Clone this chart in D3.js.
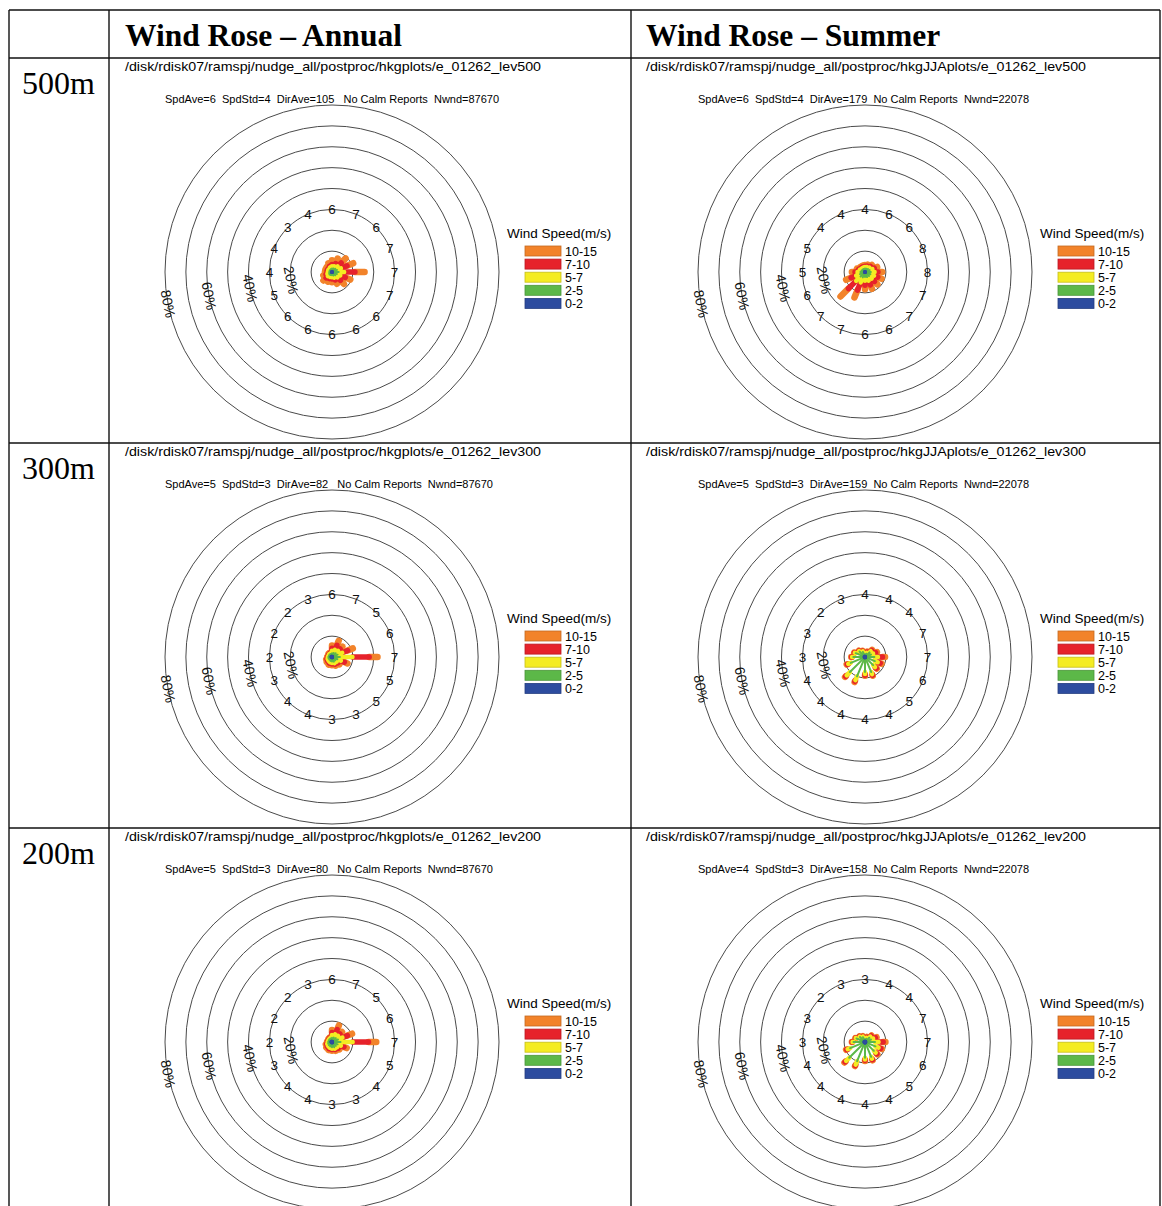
<!DOCTYPE html>
<html>
<head>
<meta charset="utf-8">
<script src="https://cdn.jsdelivr.net/npm/d3@7"></script>
<style>
  body { margin: 0; background: #fff; }
  svg { display: block; }
  .sans { font-family: "Liberation Sans", Arial, Helvetica, sans-serif; }
  .serif { font-family: "Liberation Serif", "Times New Roman", Times, serif; }
</style>
</head>
<body>
<svg id="chart" width="1162" height="1206"></svg>
<script>
// ---- shared definitions ----
const directions = ["N","NNE","NE","ENE","E","ESE","SE","SSE","S","SSW","SW","WSW","W","WNW","NW","NNW"];
const speedClasses = ["0-2","2-5","5-7","7-10","10-15"];
const classColors = ["#2d4c9f","#5cb848","#f4ec22","#e6222b","#f2832a"];
const ringLevels = [10,20,30,40,50,60,70,80];
const ringLabelLevels = [20,40,60,80];
const columnTitles = ["Wind Rose \u2013 Annual","Wind Rose \u2013 Summer"];
const rowTitles = ["500m","300m","200m"];

// ---- Annual, 500 m : frequency (%) per speed class [0-2, 2-5, 5-7, 7-10, 10-15] × 16 directions ----
const annual500Freq = [
  [0.2,0.2,0.2,0.2,0.2,0.2,0.2,0.2,0.2,0.2,0.2,0.2,0.2,0.2,0.2,0.2],
  [1.5,1.6,2.0,2.4,3.0,2.3,2.0,1.6,1.4,1.4,1.5,1.3,1.1,1.1,1.1,1.3],
  [1.0,1.2,1.6,2.0,2.6,1.8,1.5,1.1,0.9,0.9,1.1,0.9,0.7,0.7,0.7,0.9],
  [0.9,1.4,2.4,3.2,5.2,2.6,2.0,1.2,0.8,0.9,1.2,0.7,0.4,0.4,0.4,0.6],
  [2.0,2.6,3.0,3.2,4.6,2.6,2.4,2.0,1.6,1.6,1.8,1.4,1.0,1.0,1.1,1.5]
];
const annual500Speed = [6,7,6,7,7,7,6,6,6,6,6,5,4,4,3,4];

// ---- Summer, 500 m ----
const summer500Freq = [
  [0.2,0.2,0.2,0.2,0.2,0.2,0.2,0.2,0.2,0.2,0.2,0.2,0.2,0.2,0.2,0.2],
  [1.5,1.5,1.8,2.2,2.6,2.6,2.5,2.4,2.2,2.6,2.8,2.4,2.0,1.6,1.4,1.4],
  [0.7,0.8,1.0,1.4,1.8,1.9,1.8,1.9,1.8,2.6,3.0,2.0,1.4,0.9,0.7,0.7],
  [0.4,0.5,0.7,1.0,1.6,1.9,1.9,2.2,2.2,4.0,5.2,2.6,1.2,0.6,0.4,0.4],
  [0.5,0.8,1.0,1.5,2.0,2.0,2.0,2.0,1.9,3.8,5.4,2.6,1.5,0.9,0.6,0.6]
];
const summer500Speed = [4,6,6,8,8,7,7,6,6,7,7,6,5,5,4,4];

// ---- Annual, 300 m ----
const annual300Freq = [
  [0.3,0.3,0.3,0.3,0.3,0.3,0.3,0.4,0.4,0.3,0.3,0.4,0.5,0.5,0.5,0.4],
  [1.5,1.8,2.2,2.6,3.5,2.5,1.9,2.0,1.8,1.7,1.5,1.4,1.3,1.1,1.2,1.2],
  [1.2,1.6,1.6,2.4,6.0,1.8,1.0,0.8,0.7,0.7,0.6,0.5,0.2,0.2,0.2,0.3],
  [1.2,2.4,1.4,2.8,8.0,1.8,0.8,0.5,0.4,0.5,0.4,0.3,0.1,0.1,0.1,0.2],
  [1.3,2.3,1.5,2.7,4.0,1.6,1.0,0.8,0.7,0.8,0.7,0.4,0.2,0.1,0.3,0.2]
];
const annual300Speed = [6,7,5,6,7,5,5,3,3,4,4,3,2,2,2,3];

// ---- Summer, 300 m ----
const summer300Freq = [
  [0.3,0.3,0.3,0.3,0.3,0.3,0.3,0.4,0.4,0.4,0.4,0.4,0.4,0.4,0.5,0.4],
  [1.0,1.4,2.8,2.8,4.2,4.8,5.2,7.4,6.8,9.6,9.8,7.0,5.2,4.4,3.2,2.2],
  [0.3,0.5,0.8,1.1,1.7,1.5,1.3,1.1,1.0,2.0,2.2,1.3,0.6,0.5,0.3,0.3],
  [0.2,0.4,0.6,1.3,2.2,1.3,0.8,0.5,0.5,0.6,0.7,0.5,0.2,0.2,0.1,0.2],
  [0.2,0.2,0.3,0.7,1.2,0.7,0.4,0.3,0.3,0.4,0.4,0.3,0.2,0.1,0.1,0.1]
];
const summer300Speed = [4,4,4,7,7,6,5,4,4,4,4,4,3,3,2,3];

// ---- Annual, 200 m ----
const annual200Freq = [
  [0.3,0.3,0.3,0.3,0.3,0.3,0.4,0.4,0.4,0.4,0.4,0.4,0.5,0.5,0.5,0.4],
  [1.7,2.0,2.3,2.8,3.8,2.6,2.2,2.3,2.1,1.9,1.7,1.6,1.4,1.2,1.3,1.4],
  [1.3,1.7,1.5,2.3,5.8,1.7,0.9,0.8,0.7,0.7,0.6,0.5,0.2,0.2,0.2,0.3],
  [1.2,2.4,1.3,2.6,7.6,1.6,0.7,0.4,0.4,0.5,0.4,0.3,0.1,0.1,0.1,0.2],
  [1.3,2.2,1.4,2.4,3.7,1.4,0.8,0.7,0.6,0.7,0.7,0.4,0.2,0.1,0.2,0.2]
];
const annual200Speed = [6,7,5,6,7,5,4,3,3,4,4,3,2,2,2,3];

// ---- Summer, 200 m ----
const summer200Freq = [
  [0.4,0.4,0.4,0.4,0.4,0.4,0.4,0.5,0.5,0.5,0.5,0.5,0.5,0.5,0.5,0.4],
  [0.9,1.3,2.5,2.7,4.4,5.0,5.6,7.2,7.0,9.4,10.2,7.2,5.0,3.9,2.9,2.1],
  [0.2,0.4,0.7,1.1,1.7,1.6,1.3,1.0,0.9,1.8,2.1,1.3,0.5,0.4,0.2,0.3],
  [0.1,0.3,0.5,1.2,2.2,1.2,0.7,0.5,0.4,0.5,0.7,0.5,0.2,0.1,0.1,0.1],
  [0.2,0.2,0.3,0.6,1.1,0.6,0.4,0.3,0.3,0.3,0.4,0.3,0.1,0.1,0.1,0.1]
];
const summer200Speed = [3,4,4,7,7,6,5,4,4,4,4,4,3,3,2,3];

// ---- panel captions ----
const annualPaths = [
  "/disk/rdisk07/ramspj/nudge_all/postproc/hkgplots/e_01262_lev500",
  "/disk/rdisk07/ramspj/nudge_all/postproc/hkgplots/e_01262_lev300",
  "/disk/rdisk07/ramspj/nudge_all/postproc/hkgplots/e_01262_lev200"
];
const summerPaths = [
  "/disk/rdisk07/ramspj/nudge_all/postproc/hkgJJAplots/e_01262_lev500",
  "/disk/rdisk07/ramspj/nudge_all/postproc/hkgJJAplots/e_01262_lev300",
  "/disk/rdisk07/ramspj/nudge_all/postproc/hkgJJAplots/e_01262_lev200"
];
const annualStats = [
  "SpdAve=6  SpdStd=4  DirAve=105   No Calm Reports  Nwnd=87670",
  "SpdAve=5  SpdStd=3  DirAve=82   No Calm Reports  Nwnd=87670",
  "SpdAve=5  SpdStd=3  DirAve=80   No Calm Reports  Nwnd=87670"
];
const summerStats = [
  "SpdAve=6  SpdStd=4  DirAve=179  No Calm Reports  Nwnd=22078",
  "SpdAve=5  SpdStd=3  DirAve=159  No Calm Reports  Nwnd=22078",
  "SpdAve=4  SpdStd=3  DirAve=158  No Calm Reports  Nwnd=22078"
];

const panels = [
  { col: 0, row: 0, freq: annual500Freq, speed: annual500Speed, path: annualPaths[0], stats: annualStats[0] },
  { col: 1, row: 0, freq: summer500Freq, speed: summer500Speed, path: summerPaths[0], stats: summerStats[0] },
  { col: 0, row: 1, freq: annual300Freq, speed: annual300Speed, path: annualPaths[1], stats: annualStats[1] },
  { col: 1, row: 1, freq: summer300Freq, speed: summer300Speed, path: summerPaths[1], stats: summerStats[1] },
  { col: 0, row: 2, freq: annual200Freq, speed: annual200Speed, path: annualPaths[2], stats: annualStats[2] },
  { col: 1, row: 2, freq: summer200Freq, speed: summer200Speed, path: summerPaths[2], stats: summerStats[2] }
];

// ---- layout ----
const svg = d3.select("#chart");
const tableX = [9, 109, 631, 1160];
const tableY = [10, 58, 443, 828];
const rowHeight = 385;
const centerX = [332, 865];
const centerY0 = 272;
const pathX = [125, 646];
const pathWidth = [416, 440];

// radial scale: percent frequency -> pixels
const rScale = d3.scaleLinear().domain([0, 80]).range([0, 167]);
// direction index -> angle (radians, clockwise from north)
const aScale = d3.scaleLinear().domain([0, directions.length]).range([0, 2 * Math.PI]);
const classWidth = d3.scaleOrdinal().domain(speedClasses).range([3, 2, 4.5, 5.5, 6.5]);
const classColor = d3.scaleOrdinal().domain(speedClasses).range(classColors);

const px = (r, a) => r * Math.sin(a);
const py = (r, a) => -r * Math.cos(a);

// ---- table grid ----
const grid = svg.append("g").attr("stroke", "#111").attr("stroke-width", 1.4);
tableY.forEach(y => grid.append("line").attr("x1", tableX[0]).attr("x2", tableX[3]).attr("y1", y).attr("y2", y));
tableX.forEach(x => grid.append("line").attr("x1", x).attr("x2", x).attr("y1", tableY[0]).attr("y2", 1206));

svg.selectAll(".coltitle").data(columnTitles).join("text")
  .attr("class", "serif")
  .attr("x", (d, i) => pathX[i])
  .attr("y", 46)
  .attr("font-size", 31.5)
  .attr("font-weight", "bold")
  .text(d => d);

svg.selectAll(".rowtitle").data(rowTitles).join("text")
  .attr("class", "serif")
  .attr("x", 22)
  .attr("y", (d, i) => tableY[1] + i * rowHeight + 36)
  .attr("font-size", 32)
  .text(d => d);

// ---- wind rose panels ----
panels.forEach(p => {
  const cx = centerX[p.col];
  const cy = centerY0 + p.row * rowHeight;
  const rowTop = tableY[1] + p.row * rowHeight;
  const g = svg.append("g");

  g.append("text").attr("class", "sans")
    .attr("x", pathX[p.col]).attr("y", rowTop + 13)
    .attr("font-size", 13)
    .attr("textLength", pathWidth[p.col]).attr("lengthAdjust", "spacingAndGlyphs")
    .text(p.path);

  g.append("text").attr("class", "sans")
    .attr("x", cx - 167).attr("y", cy - 169)
    .attr("font-size", 11)
    .style("white-space", "pre")
    .text(p.stats);

  const rose = g.append("g").attr("transform", `translate(${cx},${cy})`);

  rose.selectAll("circle.ring").data(ringLevels).join("circle")
    .attr("class", "ring")
    .attr("r", d => rScale(d))
    .attr("fill", "none")
    .attr("stroke", "#4a4a4a")
    .attr("stroke-width", 1);

  // petals: each speed class stacked outward, widest class drawn first
  const segs = [];
  directions.forEach((dir, i) => {
    let cum = 0;
    speedClasses.forEach((sc, k) => {
      const v = p.freq[k][i];
      segs.push({ i, k, sc, r0: cum, r1: cum + v });
      cum += v;
    });
  });
  segs.sort((a, b) => b.k - a.k);
  rose.selectAll("line.petal").data(segs).join("line")
    .attr("class", "petal")
    .attr("x1", d => px(rScale(d.r0), aScale(d.i)))
    .attr("y1", d => py(rScale(d.r0), aScale(d.i)))
    .attr("x2", d => px(rScale(d.r1), aScale(d.i)))
    .attr("y2", d => py(rScale(d.r1), aScale(d.i)))
    .attr("stroke", d => classColor(d.sc))
    .attr("stroke-width", d => classWidth(d.sc))
    .attr("stroke-linecap", "round");

  // mean speed per direction, on the 30% ring
  rose.selectAll("text.spd").data(p.speed).join("text")
    .attr("class", "spd sans")
    .attr("x", (d, i) => px(rScale(30), aScale(i)))
    .attr("y", (d, i) => py(rScale(30), aScale(i)))
    .attr("font-size", 13.5)
    .attr("fill", "#111")
    .attr("text-anchor", "middle")
    .attr("dominant-baseline", "central")
    .text(d => d);

  // ring percentage labels, along a ray just below west
  const labAngle = (259 / 360) * 2 * Math.PI;
  rose.selectAll("text.pct").data(ringLabelLevels).join("text")
    .attr("class", "pct sans")
    .attr("font-size", 14)
    .attr("fill", "#111")
    .attr("text-anchor", "middle")
    .attr("dominant-baseline", "central")
    .attr("transform", d => `translate(${px(rScale(d), labAngle)},${py(rScale(d), labAngle)}) rotate(79)`)
    .text(d => d + "%");

  // legend
  const lg = g.append("g").attr("transform", `translate(${cx + 175},${cy - 34})`);
  lg.append("text").attr("class", "sans").attr("x", 0).attr("y", 0)
    .attr("font-size", 13.5).text("Wind Speed(m/s)");
  const legendOrder = speedClasses.slice().reverse();
  lg.selectAll("rect").data(legendOrder).join("rect")
    .attr("x", 18).attr("y", (d, j) => 8 + j * 13.1)
    .attr("width", 36).attr("height", 10)
    .attr("fill", d => classColor(d))
    .attr("stroke", d => d3.color(classColor(d)).darker(0.6))
    .attr("stroke-width", 0.8);
  lg.selectAll("text.lab").data(legendOrder).join("text")
    .attr("class", "lab sans")
    .attr("x", 58).attr("y", (d, j) => 17.5 + j * 13.1)
    .attr("font-size", 12.5)
    .text(d => d);
});
</script>
</body>
</html>
